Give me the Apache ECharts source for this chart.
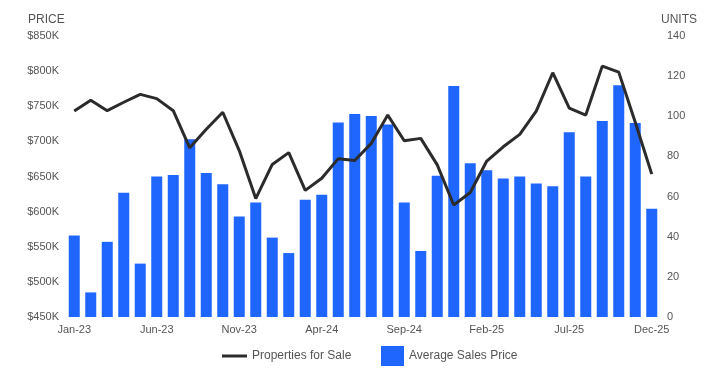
<!DOCTYPE html>
<html><head><meta charset="utf-8">
<script src="https://cdn.jsdelivr.net/npm/echarts@6/dist/echarts.min.js"></script>
<style>html,body{margin:0;padding:0;background:#fff}#c{width:721px;height:386px}</style>
</head><body><div id="c"></div>
<script>
const months = ['Jan-23','Feb-23','Mar-23','Apr-23','May-23','Jun-23','Jul-23','Aug-23','Sep-23','Oct-23','Nov-23','Dec-23',
 'Jan-24','Feb-24','Mar-24','Apr-24','May-24','Jun-24','Jul-24','Aug-24','Sep-24','Oct-24','Nov-24','Dec-24',
 'Jan-25','Feb-25','Mar-25','Apr-25','May-25','Jun-25','Jul-25','Aug-25','Sep-25','Oct-25','Nov-25','Dec-25'];
const avgSalesPrice = [566,485,557,627,526,650,652,703,655,639,593,613,
 563,541,617,624,727,739,736,724,613,544,651,779,
 669,659,647,650,640,636,713,650,729,780,726,604];
const propertiesForSale = [102.6,108,102.8,107,110.9,108.8,102.8,84.3,93.5,102,82.9,59,
 76,81.9,63.1,69.1,78.9,78,86.5,100.6,87.8,89,75.8,55.8,
 62,77.7,84.8,91,102.6,121.7,104.1,100.6,125,122,97,71.2];
const priceTicks = {min:450,max:850,interval:50};
const unitTicks = {min:0,max:140,interval:20};

const chart = echarts.init(document.getElementById('c'));
const font = 'Arial, "Liberation Sans", sans-serif';
const legendText = {fontSize:12,color:'#555',fontFamily:font};
chart.setOption({
  animation:false,
  textStyle:{fontFamily:font},
  grid:{left:66,right:61,top:36,bottom:69},
  graphic:[
    {type:'text',left:28,top:14,style:{text:'PRICE',font:'12px '+font,fill:'#555'}},
    {type:'text',right:24,top:14,style:{text:'UNITS',font:'12px '+font,fill:'#555'}}
  ],
  legend:[
    {left:222,top:350,padding:0,itemWidth:25,itemHeight:3,textStyle:legendText,
     data:[{name:'Properties for Sale',icon:'rect'}]},
    {left:381,top:346,padding:0,itemWidth:23,itemHeight:20,textStyle:legendText,
     data:[{name:'Average Sales Price',icon:'rect'}]}
  ],
  xAxis:{
    type:'category',data:months,
    axisLine:{show:false},axisTick:{show:false},
    axisLabel:{interval:4,fontSize:11,color:'#555',margin:7,fontFamily:font}
  },
  yAxis:[
    {type:'value',min:priceTicks.min,max:priceTicks.max,interval:priceTicks.interval,
     splitLine:{show:false},axisLine:{show:false},axisTick:{show:false},
     axisLabel:{fontSize:11,color:'#555',margin:7,fontFamily:font,formatter:v=>'$'+v+'K'}},
    {type:'value',min:unitTicks.min,max:unitTicks.max,interval:unitTicks.interval,
     splitLine:{show:false},axisLine:{show:false},axisTick:{show:false},
     axisLabel:{fontSize:11,color:'#555',margin:7,fontFamily:font}}
  ],
  series:[
    {name:'Average Sales Price',type:'bar',yAxisIndex:0,data:avgSalesPrice,barWidth:11,
     itemStyle:{color:'#1f66ff'}},
    {name:'Properties for Sale',type:'line',yAxisIndex:1,data:propertiesForSale,
     symbol:'none',lineStyle:{color:'#2b2b2b',width:3},itemStyle:{color:'#2b2b2b'},z:3}
  ]
});
</script></body></html>
